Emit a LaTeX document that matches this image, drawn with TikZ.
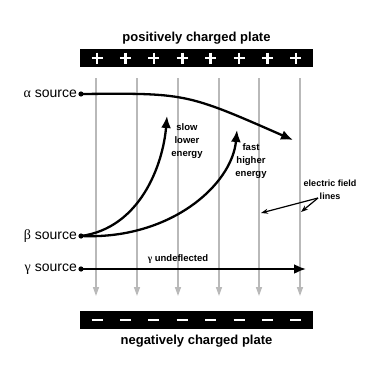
\documentclass[tikz,border=0pt]{standalone}
\usepackage{fontspec}
\setmainfont{Liberation Sans}
\newfontfamily\grk{Liberation Serif}
\usetikzlibrary{arrows.meta,calc,positioning}
\definecolor{FieldGray}{RGB}{185,185,185}

\begin{document}
\begin{tikzpicture}[x=1pt,y=-1pt,
  plate/.style={fill=black,minimum width=233pt,minimum height=18pt,inner sep=0pt},
  plbl/.style={font=\bfseries\fontsize{13}{15}\selectfont},
  src/.style={left=4pt,inner sep=0pt,font=\fontsize{14}{16}\selectfont},
  lbl/.style={align=center,inner sep=0pt,font=\bfseries\fontsize{9.5}{13}\selectfont},
  ray/.style={line width=2.3pt,-{Latex[length=12pt,width=10pt]}},
  field/.style={FieldGray,line width=1.4pt,-{Triangle[length=9pt,width=6pt]}}]
\useasboundingbox (0,0) rectangle (380,380);
% plates
\node[plate] (top) at (196.5,58) {};
\node[plate] (bot) at (196.5,320) {};
\node[plbl] (toplbl) at (196.5,38) {positively charged plate};
\node[plbl] (botlbl) at (196.5,341) {negatively charged plate};
\foreach \i in {0,...,7} {
  \draw[white,line width=2.6pt] ({97+28.4*\i-5.5},58)--({97+28.4*\i+5.5},58)
    ({97+28.4*\i},52.5)--({97+28.4*\i},63.5);
  \draw[white,line width=2.4pt] ({97+28.4*\i-5.5},320)--({97+28.4*\i+5.5},320);
}
% field lines
\foreach \x in {96,137,178,219,259,300}
  \draw[field] (\x,78)--(\x,296);
% sources
\coordinate (alpha) at (81,94);
\coordinate (beta) at (81,236);
\coordinate (gamma) at (81,269);
\foreach \s in {alpha,beta,gamma} \fill (\s) circle (2.6pt);
\node[src] at (alpha) {{\grk α} source};
\node[src] at (beta) {{\grk β} source};
\node[src] at (gamma) {{\grk γ} source};
% paths
\coordinate (aend) at (293,140);
\coordinate (slow) at (167,116);
\coordinate (fast) at (237,130);
\coordinate (gend) at (306,269);
\draw[ray] (alpha) .. controls (186,93) .. (aend);
\draw[ray] (beta) .. controls (140,228) and (163,165) .. (slow);
\draw[ray] (beta) .. controls (170,240) and (232,185) .. (fast);
\draw[ray] (gamma) -- (gend);
% labels
\node[lbl] (slowlbl) at (187,141) {slow\\lower\\energy};
\node[lbl] (fastlbl) at (251,161) {fast\\higher\\energy};
\node[lbl] (glbl) at (178,259) {{\grk γ} undeflected};
\node[lbl,font=\bfseries\fontsize{9}{12.5}\selectfont] (efl) at (330,190) {electric field\\lines};
\coordinate (efa) at (261,213);
\coordinate (efb) at (301,212);
\draw[line width=1.2pt,-{Stealth[length=7pt,width=5pt]}] (318,198) -- (efa);
\draw[line width=1.2pt,-{Stealth[length=7pt,width=5pt]}] (318,198) -- (efb);
\end{tikzpicture}
\end{document}
